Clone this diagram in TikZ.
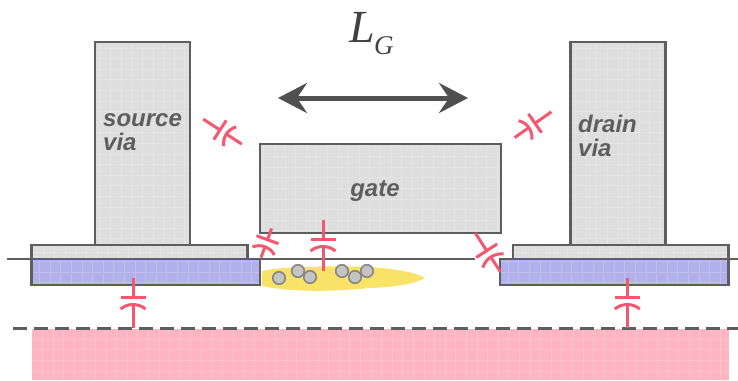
\documentclass[tikz,border=0pt]{standalone}
\usepackage{fontspec}
\setmainfont{Liberation Sans}
\newfontfamily\lgfont{Liberation Serif}
\usetikzlibrary{arrows.meta}
\definecolor{frameC}{HTML}{5E5E5E}
\definecolor{greyC}{HTML}{DEDEDE}
\definecolor{blueC}{HTML}{B0B0EA}
\definecolor{pinkC}{HTML}{FFB4C2}
\definecolor{yellowC}{HTML}{F8E268}
\definecolor{redC}{HTML}{F5586E}
\definecolor{ballC}{HTML}{C4C4C4}
\tikzset{
  texture/.style={path picture={\draw[white,opacity=.2,line width=1pt,step=10.6pt] (path picture bounding box.south west) grid (path picture bounding box.north east);}},
  box/.style={draw=frameC,line width=2.8pt,inner sep=0pt,outer sep=0pt,anchor=north west,texture},
  greybox/.style={box,fill=greyC},
  bluebox/.style={box,fill=blueC},
  lab/.style={font=\fontsize{24}{26}\selectfont\bfseries\itshape,text=frameC,inner sep=0pt,anchor=base west},
  surface/.style={draw=frameC,line width=2.8pt},
  capline/.style={draw=redC,line width=3pt},
  ball/.style={circle,draw=frameC!75,fill=ballC,line width=1.6pt,minimum size=12.5pt,inner sep=0pt},
  pics/capac/.style n args={3}{code={
    \draw[capline] (0,-#2) -- (0,0);
    \draw[capline] (-#1,0) -- (#1,0);
    \draw[capline] (-#1,12) .. controls (-5,6) and (5,6) .. (#1,12);
    \draw[capline] (0,8) -- (0,#3);
  }}
}
\begin{document}
\begin{tikzpicture}[x=1pt,y=-1pt]
\useasboundingbox (0,0) rectangle (738,380);
% substrate
\path[fill=pinkC,texture] (32,329) rectangle (729,380);
\coordinate (dl) at (13,328);
\coordinate (dr) at (738,328);
\draw[frameC,line width=3pt,dash pattern=on 14pt off 7pt] (dl) -- (dr);
% channel
\fill[yellowC] (262,271) .. controls (275,268) and (310,265) .. (370,267)
  .. controls (395,269) and (415,272) .. (425,278)
  .. controls (415,284) and (395,287) .. (370,288)
  .. controls (330,292) and (290,292) .. (262,286) -- cycle;
\node[ball] (b1) at (279,278) {};
\node[ball] (b2) at (298,271) {};
\node[ball] (b3) at (310,277) {};
\node[ball] (b4) at (342,271) {};
\node[ball] (b5) at (355,277) {};
\node[ball] (b6) at (367,271) {};
% contacts
\node[bluebox,minimum width=228.5pt,minimum height=26pt] (sblue) at (31.5,259) {};
\node[bluebox,minimum width=228.5pt,minimum height=26pt] (dblue) at (500,259) {};
\node[greybox,minimum width=95pt,minimum height=203pt] (svia) at (95,42) {};
\node[greybox,minimum width=95pt,minimum height=203pt] (dvia) at (570.5,42) {};
\node[greybox,minimum width=216pt,minimum height=14pt] (scap) at (31.5,245) {};
\node[greybox,minimum width=215.5pt,minimum height=14pt] (dcap) at (513,245) {};
\node[greybox,minimum width=241pt,minimum height=89pt] (gate) at (260,144) {};
% surface
\coordinate (s1) at (7,259);
\coordinate (s2) at (475,259);
\coordinate (s3) at (500,259);
\coordinate (s4) at (738,259);
\draw[surface] (s1) -- (s2);
\draw[surface] (s3) -- (s4);
% labels
\node[lab] (t1) at (103,126) {source};
\node[lab] (t2) at (103,150) {via};
\node[lab] (t3) at (578,132) {drain};
\node[lab] (t4) at (578,156) {via};
\node[lab,anchor=base] (t5) at (375,196) {gate};
% L_G
\node[inner sep=0pt,anchor=base west,text=frameC!70!black,font=\lgfont\itshape\fontsize{46}{48}\selectfont] (L) at (349,42) {L};
\node[inner sep=0pt,anchor=base west,text=frameC!70!black,font=\lgfont\itshape\fontsize{27}{29}\selectfont] (G) at (374,54) {G};
% arrow
\coordinate (al) at (278,98);
\coordinate (ar) at (468,98);
\draw[frameC!85!black,line width=5pt,{Stealth[length=29pt,width=30pt,inset=10pt]}-{Stealth[length=29pt,width=30pt,inset=10pt]}] (al) -- (ar);
% capacitors
\pic at (133,297) {capac={12.5}{19}{31}};
\pic at (627.3,297) {capac={12.5}{19}{31}};
\pic at (323,239) {capac={12.5}{19}{32}};
\pic[rotate=-20] at (267.5,239.7) {capac={11.7}{12}{19}};
\pic[rotate=33] at (486.7,250.7) {capac={12.5}{21}{25}};
\pic[rotate=57] at (220,130) {capac={11.5}{20}{26}};
\pic[rotate=-55] at (535,123.3) {capac={11.5}{20}{25}};
\end{tikzpicture}
\end{document}
